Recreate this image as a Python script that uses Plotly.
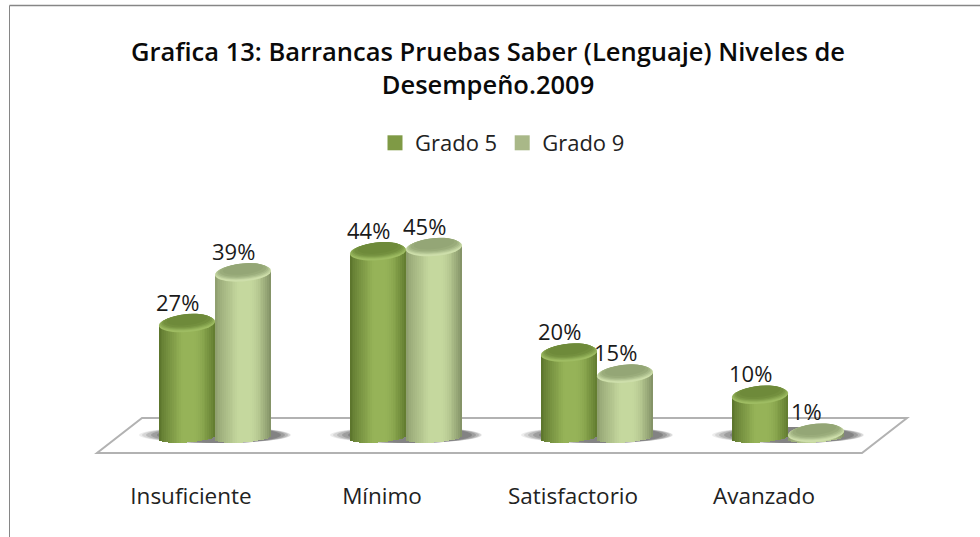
import math
import plotly.graph_objects as go

categories = ["Insuficiente", "Mínimo", "Satisfactorio", "Avanzado"]
grado5 = [27, 44, 20, 10]
grado9 = [39, 45, 15, 1]
series_names = ["Grado 5", "Grado 9"]
title_text = "Grafica 13: Barrancas Pruebas Saber (Lenguaje) Niveles de<br>Desempeño.2009"

W, H = 980, 537
PLOT_BOTTOM = 480
CAT_PX, CAT0_PX = 191.0, 215.0
UNIT_PX, BASE_PX = 4.22, 437.5
BAR_OFF_PX, RX_PX, RY_PX, TILT_PX = 28.0, 28.0, 8.5, 2.0
BOTTOM_ARC_PX = 5.0
N = 30

xr = [-CAT0_PX / CAT_PX, (W - CAT0_PX) / CAT_PX]
yr = [-(PLOT_BOTTOM - BASE_PX) / UNIT_PX, BASE_PX / UNIT_PX]
dx = lambda p: p / CAT_PX
dy = lambda p: p / UNIT_PX


def mix(a, b, t):
    return tuple(a[k] + (b[k] - a[k]) * t for k in range(3))


def rgb(c):
    return "rgb(%d,%d,%d)" % tuple(round(v) for v in c)


STYLES = [
    dict(edge_l=(88, 113, 42), mid=(150, 179, 88), edge_r=(96, 122, 46),
         back=(110, 138, 58), front=(158, 188, 98), swatch="#7f9a45"),
    dict(edge_l=(140, 155, 108), mid=(197, 216, 158), edge_r=(128, 143, 100),
         back=(148, 166, 118), front=(205, 222, 170), swatch="#a9b888"),
]


def ellipse_path(cx, cy, rx_px, ry_px, tilt_px):
    pts = []
    for k in range(48):
        a = 2 * math.pi * k / 48
        c, s = math.cos(a), math.sin(a)
        x = cx + dx(rx_px * c)
        y = cy + dy(ry_px * s + tilt_px * c)
        pts.append(f"{x:.5f},{y:.4f}")
    return "M" + "L".join(pts) + "Z"


fig = go.Figure()
shapes = []

# floor and frame
floor_px = [(97, 453), (862, 453), (907, 418), (142, 418)]
floor_path = "M" + "L".join(f"{x / W:.5f},{1 - y / PLOT_BOTTOM:.5f}" for x, y in floor_px) + "Z"
shapes.append(dict(type="path", path=floor_path, xref="paper", yref="paper", layer="below",
                   line=dict(color="#b2b2b2", width=2), fillcolor="white"))
shapes.append(dict(type="line", xref="paper", yref="paper", layer="below",
                   x0=9.5 / W, x1=1, y0=1 - 5.5 / PLOT_BOTTOM, y1=1 - 5.5 / PLOT_BOTTOM,
                   line=dict(color="#868686", width=1.5)))
shapes.append(dict(type="line", xref="paper", yref="paper", layer="below",
                   x0=9.5 / W, x1=9.5 / W, y0=1 - 5.5 / PLOT_BOTTOM, y1=-(H - PLOT_BOTTOM) / PLOT_BOTTOM,
                   line=dict(color="#868686", width=1)))

# soft shadows on the floor
for i in range(len(categories)):
    for rx, ry, op, shift in [(76, 8, 0.10, 0), (74, 8, 0.14, 1), (71, 8, 0.20, 2), (67, 8, 0.26, 3), (62, 8, 0.32, 4)]:
        shapes.append(dict(type="path", path=ellipse_path(i + dx(shift), dy(2.5), rx, ry, 0), xref="x", yref="y",
                           layer="below", line=dict(width=0), fillcolor="#4c4c4c", opacity=op))

# legend entries
for name, st in zip(series_names, STYLES):
    fig.add_trace(go.Scatter(x=[None], y=[None], name=name, mode="markers",
                             marker=dict(symbol="square", size=15, color=st["swatch"], line=dict(width=0)),
                             showlegend=True, hoverinfo="skip"))

# cylinders, built from narrow bars so the body gets its horizontal shading
for s, (values, st, sign) in enumerate(zip([grado5, grado9], STYLES, [-1, 1])):
    for k in range(N):
        t = -1 + (2 * k + 1) / N
        if t < 0.0:
            col = mix(st["edge_l"], st["mid"], min(1.0, (t + 1) / 0.85) ** 0.8)
        else:
            col = mix(st["mid"], st["edge_r"], max(0.0, (t - 0.25) / 0.75) ** 1.6)
        arc = BOTTOM_ARC_PX * math.sqrt(max(0.0, 1 - t * t))
        base_val = dy(-arc + TILT_PX * t)
        tops = [v + dy(TILT_PX * t) for v in values]
        fig.add_trace(go.Bar(
            x=[i + dx(sign * BAR_OFF_PX + t * RX_PX) for i in range(len(values))],
            y=[top - base_val for top in tops],
            base=[base_val] * len(values),
            width=dx(2 * RX_PX / N + 0.6),
            marker=dict(color=rgb(col), line=dict(width=0)),
            showlegend=False, hoverinfo="skip",
        ))
    # cylinder caps
    for i, v in enumerate(values):
        cx = i + dx(sign * BAR_OFF_PX)
        layers = [(1.0, 0.0, 1.0), (0.98, 0.8, 0.8), (0.95, 1.5, 0.55), (0.9, 2.2, 0.3), (0.84, 3.0, 0.1), (0.72, 4.0, 0.0)]
        for scale, shift, f in layers:
            shapes.append(dict(type="path", path=ellipse_path(cx, v + dy(shift), RX_PX * scale,
                                                               RY_PX * scale * (0.9 if shift else 1.0), TILT_PX),
                               xref="x", yref="y", layer="above", line=dict(width=0),
                               fillcolor=rgb(mix(st["back"], st["front"], f))))

# data labels
annotations = []
for values, sign in zip([grado5, grado9], [-1, 1]):
    for i, v in enumerate(values):
        annotations.append(dict(x=i + dx(sign * BAR_OFF_PX), y=v, xref="x", yref="y", text=f"{v}%",
                                showarrow=False, xshift=-10, yshift=22, yanchor="middle",
                                font=dict(size=22, color="#1a1a1a")))

fig.update_layout(
    width=W, height=H, autosize=False,
    margin=dict(l=0, r=0, t=0, b=H - PLOT_BOTTOM, pad=0),
    paper_bgcolor="white", plot_bgcolor="white",
    font=dict(family="Open Sans, sans-serif", color="#1a1a1a"),
    barmode="overlay", bargap=0,
    title=dict(text=title_text, x=488 / W, xanchor="center", y=1 - 61 / H, yanchor="top",
               font=dict(size=25.5, family="Open Sans, sans-serif", weight=600, color="#0a0a0a")),
    legend=dict(orientation="h", x=375 / W, xanchor="left", y=1 - 122 / PLOT_BOTTOM, yanchor="top",
                font=dict(size=22, color="#222222"), traceorder="normal", bgcolor="rgba(0,0,0,0)"),
    xaxis=dict(range=xr, tickmode="array", tickvals=[i - 24 / CAT_PX for i in range(4)], ticktext=categories,
               showgrid=False, zeroline=False, showline=False, ticks="", tickfont=dict(size=22.5, color="#222222"),
               automargin=False, fixedrange=True),
    yaxis=dict(range=yr, visible=False, showgrid=False, zeroline=False, fixedrange=True, automargin=False),
    shapes=shapes, annotations=annotations, showlegend=True,
)
fig.write_html("out.html", config={"displayModeBar": False},
               post_script="document.body.style.margin='0';")
